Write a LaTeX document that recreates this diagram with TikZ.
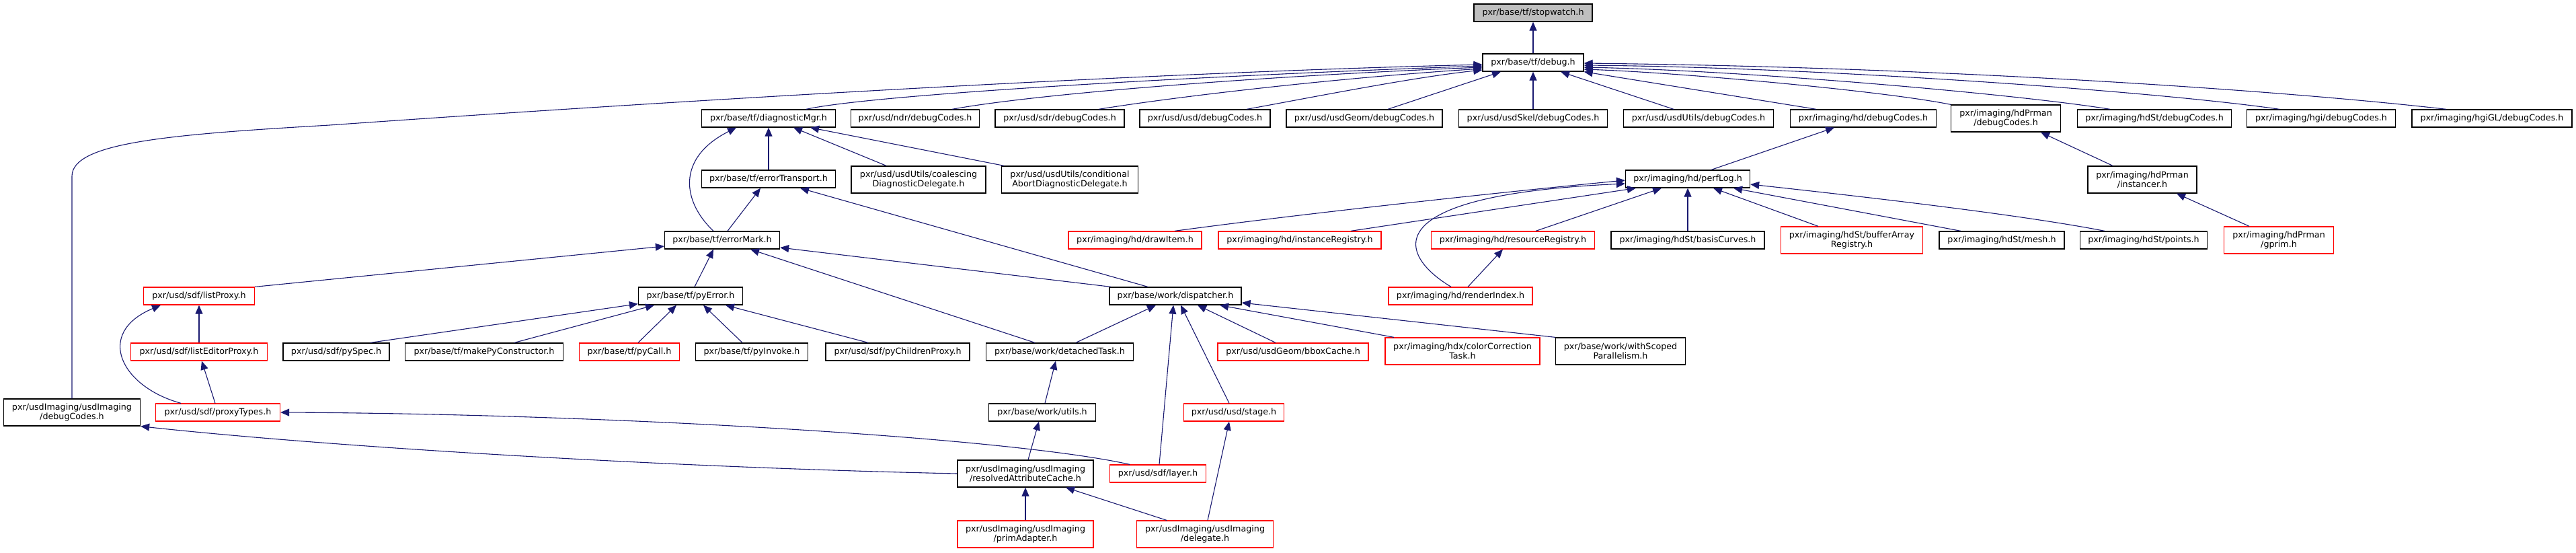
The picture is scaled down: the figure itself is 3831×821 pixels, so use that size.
\documentclass[tikz,border=0pt]{standalone}
\usepackage{fontspec}
\newfontfamily\dvs{DejaVu Sans}
\usetikzlibrary{arrows.meta,calc}
\definecolor{edgeblue}{RGB}{25,25,112}
\definecolor{stopgray}{RGB}{191,191,191}
\begin{document}
\begin{tikzpicture}[x=0.5pt,y=-0.5pt,
 box/.style={draw=black, line width=0.65pt, fill=white, inner sep=0pt, align=center,
   font=\dvs\fontsize{6.35}{7}\selectfont, minimum height=13pt},
 redbox/.style={box, draw=red},
 tall/.style={minimum height=20pt},
 bw/.style={minimum width=#1*0.5pt},
 edge/.style={draw=edgeblue, line width=0.55pt, -{Triangle[length=6.5pt,width=5.5pt]}}
]
\useasboundingbox (0,0) rectangle (3831,821);
\node[box,bw=176,fill=stopgray] (stopwatch) at (2280,19) {pxr/base/tf/stopwatch.h};
\node[box,bw=150] (debug) at (2280,93) {pxr/base/tf/debug.h};
\node[box,bw=199] (diagMgr) at (1143,176) {pxr/base/tf/diagnosticMgr.h};
\node[box,bw=191] (ndrDbg) at (1361,176) {pxr/usd/ndr/debugCodes.h};
\node[box,bw=192] (sdrDbg) at (1576,176) {pxr/usd/sdr/debugCodes.h};
\node[box,bw=194] (usdDbg) at (1792,176) {pxr/usd/usd/debugCodes.h};
\node[box,bw=232] (geomDbg) at (2029,176) {pxr/usd/usdGeom/debugCodes.h};
\node[box,bw=221] (skelDbg) at (2280,176) {pxr/usd/usdSkel/debugCodes.h};
\node[box,bw=223] (utilsDbg) at (2526,176) {pxr/usd/usdUtils/debugCodes.h};
\node[box,bw=217] (hdDbg) at (2771,176) {pxr/imaging/hd/debugCodes.h};
\node[box,tall,bw=163] (prmanDbg) at (2983,176) {pxr/imaging/hdPrman\\/debugCodes.h};
\node[box,bw=229] (hdStDbg) at (3204,176) {pxr/imaging/hdSt/debugCodes.h};
\node[box,bw=221] (hgiDbg) at (3452,176) {pxr/imaging/hgi/debugCodes.h};
\node[box,bw=238] (hgiGLDbg) at (3706,176) {pxr/imaging/hgiGL/debugCodes.h};
\node[box,bw=199] (errTransport) at (1143,266) {pxr/base/tf/errorTransport.h};
\node[box,tall,bw=200] (coalescing) at (1366,267) {pxr/usd/usdUtils/coalescing\\DiagnosticDelegate.h};
\node[box,tall,bw=203] (conditional) at (1591,267) {pxr/usd/usdUtils/conditional\\AbortDiagnosticDelegate.h};
\node[box,bw=185] (perfLog) at (2510,266) {pxr/imaging/hd/perfLog.h};
\node[box,tall,bw=162] (instancer) at (3186,267) {pxr/imaging/hdPrman\\/instancer.h};
\node[box,bw=171] (errorMark) at (1074,357) {pxr/base/tf/errorMark.h};
\node[redbox,bw=198] (drawItem) at (1688,357) {pxr/imaging/hd/drawItem.h};
\node[redbox,bw=242] (instReg) at (1933,357) {pxr/imaging/hd/instanceRegistry.h};
\node[redbox,bw=243] (resReg) at (2250,357) {pxr/imaging/hd/resourceRegistry.h};
\node[box,bw=228] (basisCurves) at (2510,357) {pxr/imaging/hdSt/basisCurves.h};
\node[redbox,tall,bw=211] (bufArr) at (2754,357) {pxr/imaging/hdSt/bufferArray\\Registry.h};
\node[box,bw=186] (mesh) at (2977,357) {pxr/imaging/hdSt/mesh.h};
\node[box,bw=189] (points) at (3188,357) {pxr/imaging/hdSt/points.h};
\node[redbox,tall,bw=163] (gprim) at (3389,357) {pxr/imaging/hdPrman\\/gprim.h};
\node[redbox,bw=165] (listProxy) at (296,440) {pxr/usd/sdf/listProxy.h};
\node[box,bw=155] (pyError) at (1027,440) {pxr/base/tf/pyError.h};
\node[box,bw=196] (dispatcher) at (1748,440) {pxr/base/work/dispatcher.h};
\node[redbox,bw=214] (renderIndex) at (2172,440) {pxr/imaging/hd/renderIndex.h};
\node[redbox,bw=203] (listEditorProxy) at (296,523) {pxr/usd/sdf/listEditorProxy.h};
\node[box,bw=158] (pySpec) at (500,523) {pxr/usd/sdf/pySpec.h};
\node[box,bw=235] (makePyCons) at (720,523) {pxr/base/tf/makePyConstructor.h};
\node[redbox,bw=149] (pyCall) at (936,523) {pxr/base/tf/pyCall.h};
\node[box,bw=167] (pyInvoke) at (1118,523) {pxr/base/tf/pyInvoke.h};
\node[box,bw=214] (pyChildren) at (1335,523) {pxr/usd/sdf/pyChildrenProxy.h};
\node[box,bw=219] (detached) at (1576,523) {pxr/base/work/detachedTask.h};
\node[redbox,bw=224] (bboxCache) at (1923,523) {pxr/usd/usdGeom/bboxCache.h};
\node[redbox,tall,bw=230] (colorCorr) at (2175,522) {pxr/imaging/hdx/colorCorrection\\Task.h};
\node[box,tall,bw=193] (withScoped) at (2410,522) {pxr/base/work/withScoped\\Parallelism.h};
\node[box,tall,bw=203] (usdImgDbg) at (107,613) {pxr/usdImaging/usdImaging\\/debugCodes.h};
\node[redbox,bw=185] (proxyTypes) at (324,613) {pxr/usd/sdf/proxyTypes.h};
\node[box,bw=159] (utils) at (1550,613) {pxr/base/work/utils.h};
\node[redbox,bw=149] (stage) at (1835,613) {pxr/usd/usd/stage.h};
\node[box,tall,bw=202] (resolved) at (1525,704) {pxr/usdImaging/usdImaging\\/resolvedAttributeCache.h};
\node[redbox,bw=143] (layer) at (1722,704) {pxr/usd/sdf/layer.h};
\node[redbox,tall,bw=202] (primAdapter) at (1525,794) {pxr/usdImaging/usdImaging\\/primAdapter.h};
\node[redbox,tall,bw=203] (delegate) at (1792,794) {pxr/usdImaging/usdImaging\\/delegate.h};
\coordinate (bendA) at (107,262);
\coordinate (bendB) at (490,186);
% edges
\draw[edge] (debug.north) -- (stopwatch.south);
\draw[edge] ([xshift=28pt]diagMgr.north) .. controls (1300,140) and (1800,112) .. ([yshift=-2.5pt]debug.west);
\draw[edge] ([xshift=27.5pt]ndrDbg.north) .. controls (1550,138) and (1900,112) .. ([yshift=-3.5pt]debug.west);
\draw[edge] ([xshift=29pt]sdrDbg.north) .. controls (1760,142) and (2000,115) .. ([yshift=-4.5pt]debug.west);
\draw[edge] ([xshift=31pt]usdDbg.north) .. controls (1950,145) and (2100,115) .. ([yshift=-5.5pt]debug.west);
\draw[edge] ([xshift=17.5pt]geomDbg.north) -- ([xshift=-24pt]debug.south);
\draw[edge] (skelDbg.north) -- (debug.south);
\draw[edge] ([xshift=-18.5pt]utilsDbg.north) -- ([xshift=20.5pt]debug.south);
\draw[edge] ([xshift=-35pt]hdDbg.north) -- (debug.south east);
\draw[edge] (prmanDbg.north west) .. controls (2800,135) and (2500,108) .. ([yshift=-5pt]debug.east);
\draw[edge] ([xshift=-33pt]hdStDbg.north) .. controls (3000,140) and (2600,105) .. ([yshift=-3.5pt]debug.east);
\draw[edge] ([xshift=-31pt]hgiDbg.north) .. controls (3200,135) and (2700,100) .. ([yshift=-2pt]debug.east);
\draw[edge] ([xshift=-34pt]hgiGLDbg.north) .. controls (3400,135) and (2900,100) .. ([yshift=-0.5pt]debug.east);
\draw[edge] (usdImgDbg.north) -- (bendA) .. controls (107,212) and (250,200) .. (bendB) .. controls (1000,150) and (1700,108) .. ([yshift=-1.5pt]debug.west);
\draw[edge] ([xshift=17.5pt]perfLog.north) -- ([xshift=-21.5pt]hdDbg.south);
\draw[edge] ([xshift=-22pt]instancer.north) -- ([xshift=26pt]prmanDbg.south);
\draw[edge] (errTransport.north) -- (diagMgr.south);
\draw[edge] ([xshift=-24pt]coalescing.north) -- ([xshift=18.5pt]diagMgr.south);
\draw[edge] ([xshift=-49pt]conditional.north) -- ([xshift=31pt]diagMgr.south);
\draw[edge] ([xshift=-6.5pt]errorMark.north) .. controls (1015,300) and (1005,235) .. ([xshift=-24pt]diagMgr.south);
\draw[edge] ([xshift=4pt]errorMark.north) -- ([xshift=-6pt]errTransport.south);
\draw[edge] ([xshift=-20.5pt]dispatcher.north) -- ([xshift=23.5pt]errTransport.south);
\draw[edge] ([xshift=29.5pt]drawItem.north) .. controls (1950,316) and (2250,284) .. ([yshift=-1pt]perfLog.west);
\draw[edge] ([xshift=38pt]instReg.north) -- ([xshift=8pt]perfLog.south west);
\draw[edge] ([xshift=17pt]resReg.north) -- ([xshift=-19.5pt]perfLog.south);
\draw[edge] (basisCurves.north) -- (perfLog.south);
\draw[edge] ([xshift=-25pt]bufArr.north) -- ([xshift=19pt]perfLog.south);
\draw[edge] ([xshift=-30.5pt]mesh.north) -- ([xshift=34pt]perfLog.south);
\draw[edge] ([xshift=-29pt]points.north) .. controls (3000,318) and (2750,290) .. ([yshift=-4pt]perfLog.east);
\draw[edge] ([xshift=-7pt]renderIndex.north) .. controls (2080,380) and (2040,290) .. ([yshift=-3.5pt]perfLog.west);
\draw[edge] ([xshift=-22pt]gprim.north) -- ([xshift=25.5pt]instancer.south);
\draw[edge] (listProxy.north east) -- ([yshift=-4.5pt]errorMark.west);
\draw[edge] ([xshift=3pt]pyError.north) -- ([xshift=-6.5pt]errorMark.south);
\draw[edge] ([xshift=-18.5pt]detached.north) -- ([xshift=21pt]errorMark.south);
\draw[edge] ([xshift=-48pt]dispatcher.north) -- ([yshift=-5.5pt]errorMark.east);
\draw[edge] ([xshift=5.5pt]renderIndex.north) -- ([xshift=-7.5pt]resReg.south);
\draw[edge] (listEditorProxy.north) -- (listProxy.south);
\draw[edge] ([xshift=-27.5pt]proxyTypes.north) .. controls (180,575) and (140,495) .. ([xshift=-28.5pt]listProxy.south);
\draw[edge] ([xshift=-2pt]proxyTypes.north) -- ([xshift=2pt]listEditorProxy.south);
\draw[edge] ([xshift=25.5pt]pySpec.north) -- ([yshift=1pt]pyError.south west);
\draw[edge] ([xshift=22.5pt]makePyCons.north) -- ([xshift=-27pt]pyError.south);
\draw[edge] ([xshift=6.5pt]pyCall.north) -- ([xshift=-10.5pt]pyError.south);
\draw[edge] ([xshift=-7pt]pyInvoke.north) -- ([xshift=9.5pt]pyError.south);
\draw[edge] ([xshift=-22pt]pyChildren.north) -- ([xshift=26pt]pyError.south);
\draw[edge] ([xshift=12pt]detached.north) -- ([xshift=-14.5pt]dispatcher.south);
\draw[edge] ([xshift=1pt]layer.north) -- ([xshift=-1.5pt]dispatcher.south);
\draw[edge] ([xshift=-3.5pt]stage.north) -- ([xshift=4pt]dispatcher.south);
\draw[edge] ([xshift=-13pt]bboxCache.north) -- ([xshift=16.5pt]dispatcher.south);
\draw[edge] ([xshift=-51pt]colorCorr.north) -- ([xshift=33pt]dispatcher.south);
\draw[edge] (withScoped.north west) -- ([yshift=-5pt]dispatcher.east);
\draw[edge] ([xshift=2pt]utils.north) -- ([xshift=-3pt]detached.south);
\draw[edge] (resolved.west) .. controls (1000,695) and (500,665) .. (usdImgDbg.south east);
\draw[edge] ([xshift=-21pt]layer.north) .. controls (1500,650) and (900,615) .. (proxyTypes.east);
\draw[edge] ([xshift=2pt]resolved.north) -- ([xshift=-2.5pt]utils.south);
\draw[edge] ([xshift=2pt]delegate.north) -- ([xshift=-3.5pt]stage.south);
\draw[edge] (primAdapter.north) -- (resolved.south);
\draw[edge] ([xshift=-28.5pt]delegate.north) -- ([xshift=30pt]resolved.south);
\end{tikzpicture}
\end{document}
